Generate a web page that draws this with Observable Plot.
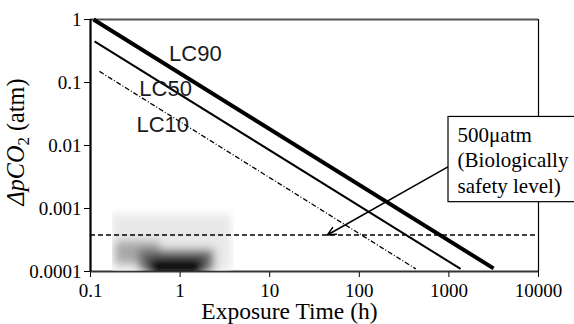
<!DOCTYPE html>
<html>
<head>
<meta charset="utf-8">
<script src="https://cdn.jsdelivr.net/npm/d3@7"></script>
<script src="https://cdn.jsdelivr.net/npm/@observablehq/plot@0.6"></script>
<style>
  html, body { margin: 0; padding: 0; background: white; overflow: hidden; }
</style>
</head>
<body>
<div id="chart"></div>
<script>
// ---- data ----
const seriesNames = ["LC90", "LC50", "LC10"];
const startTime = [0.108, 0.111, 0.126];
const startPCO2 = [1, 0.45, 0.15];
const endTime = [3150, 1350, 427];
const endPCO2 = [0.000112, 0.00011, 0.00011];
const labelTime = [1.48, 0.69, 0.64];
const labelPCO2 = [0.28, 0.078, 0.021];

const safetyLevel = [0.00038];
const safetyText = ["500μatm\n(Biologically\nsafety level)"];

const xTicks = [0.1, 1, 10, 100, 1000, 10000];
const xTickLabels = ["0.1", "1", "10", "100", "1000", "10000"];
const yTicks = [0.0001, 0.001, 0.01, 0.1, 1];
const yTickLabels = ["0.0001", "0.001", "0.01", "0.1", "1"];

const xTitle = "Exposure Time (h)";

// annotation box / arrow (data coordinates); the box runs past the right edge
const boxX = [990, 60000];
const boxY = [0.00126, 0.0284];
const boxTextAt = [1250, 0.0225];
const arrowFrom = [964, 0.00454];
const arrowTo = [44, 0.00038];

// smudge in the lower-left corner
const blobX1 = [0.176, 0.19, 0.35, 0.46];
const blobX2 = [3.7, 0.6, 2.4, 1.8];
const blobY1 = [0.0001, 0.00013, 0.0001, 0.00009];
const blobY2 = [0.0008, 0.0003, 0.00022, 0.00016];
const blobFill = ["#e8e8e8", "#a8a8a8", "#666666", "#000000"];

// ---- tables built from arrays ----
const lineData = seriesNames.flatMap((s, i) => [
  {s, t: startTime[i], p: startPCO2[i]},
  {s, t: endTime[i], p: endPCO2[i]}
]);
const labelData = seriesNames.map((s, i) => ({s, t: labelTime[i], p: labelPCO2[i]}));
const blobData = blobFill.map((f, i) => ({x1: blobX1[i], x2: blobX2[i], y1: blobY1[i], y2: blobY2[i], f}));

const strokeW = {LC90: 4, LC50: 2, LC10: 1.3};
const dash = {LC90: null, LC50: null, LC10: "5,2,1,2"};

const marks = [
  Plot.ruleY([1], {stroke: "#555", strokeWidth: 2}),
  Plot.ruleX([10000], {stroke: "black", strokeWidth: 1.2}),
  Plot.ruleY([0.0001], {stroke: "#333", strokeWidth: 2}),
  Plot.rect(blobData, {x1: "x1", x2: "x2", y1: "y1", y2: "y2", fill: "f"}),
  Plot.ruleX([0.1], {stroke: "black", strokeWidth: 2.2}),
  Plot.ruleY(safetyLevel, {stroke: "black", strokeWidth: 1.6, strokeDasharray: "5,3"}),
];
for (const s of seriesNames) {
  marks.push(Plot.line(lineData.filter(d => d.s === s), {
    x: "t", y: "p", stroke: "black", strokeWidth: strokeW[s],
    strokeDasharray: dash[s], strokeLinecap: "butt"
  }));
}
marks.push(
  Plot.text(labelData, {x: "t", y: "p", text: "s", fontFamily: "Liberation Sans", fontSize: 22, fill: "#1a1a1a"}),
  Plot.rect([{}], {x1: () => boxX[0], x2: () => boxX[1], y1: () => boxY[0], y2: () => boxY[1], fill: "white", stroke: "black", strokeWidth: 1.2}),
  Plot.text(safetyText, {x: () => boxTextAt[0], y: () => boxTextAt[1], text: d => d, textAnchor: "start", lineAnchor: "top", lineHeight: 1.22, fontSize: 21, fontFamily: "Liberation Serif", fill: "black"}),
  Plot.arrow([{}], {x1: () => arrowFrom[0], y1: () => arrowFrom[1], x2: () => arrowTo[0], y2: () => arrowTo[1], stroke: "black", strokeWidth: 1.5, headLength: 9, headAngle: 50}),
  Plot.text([xTitle], {x: () => 16.6, frameAnchor: "bottom", dy: 47, text: d => d, fontSize: 23.5, fontFamily: "Liberation Serif", fill: "black"})
);

const plot = Plot.plot({
  width: 574,
  height: 324,
  marginLeft: 90,
  marginRight: 36,
  marginTop: 19,
  marginBottom: 53,
  style: {fontFamily: "Liberation Serif", fontSize: "19px", background: "white", color: "black", overflow: "hidden"},
  x: {type: "log", domain: [0.1, 10000], ticks: xTicks, tickFormat: d => xTickLabels[xTicks.indexOf(d)], tickSize: 6, tickPadding: 6, label: null},
  y: {type: "log", domain: [0.0001, 1], ticks: yTicks, tickFormat: d => yTickLabels[yTicks.indexOf(d)], tickSize: 6, tickPadding: 3, label: null},
  marks
});

document.getElementById("chart").appendChild(plot);

// blur + clip for the smudge (first rect group)
const svg = d3.select(plot);
const defs = svg.append("defs");
defs.append("filter").attr("id", "smudge-blur")
  .attr("filterUnits", "userSpaceOnUse")
  .attr("x", 0).attr("y", 150).attr("width", 300).attr("height", 174)
  .append("feGaussianBlur").attr("stdDeviation", 4.5);
defs.append("clipPath").attr("id", "smudge-clip").attr("clipPathUnits", "userSpaceOnUse")
  .append("rect").attr("x", 112).attr("y", 195).attr("width", 122).attr("height", 76);
const blobG = plot.querySelector('g[aria-label="rect"]');
if (blobG) {
  blobG.setAttribute("filter", "url(#smudge-blur)");
  const wrap = document.createElementNS("http://www.w3.org/2000/svg", "g");
  wrap.setAttribute("clip-path", "url(#smudge-clip)");
  blobG.parentNode.insertBefore(wrap, blobG);
  wrap.appendChild(blobG);
}

// y-axis title with italic and subscript, sized to the reference's length
const yt = svg.append("text")
  .attr("transform", "translate(24,142) rotate(-90)")
  .attr("text-anchor", "middle")
  .attr("font-family", "Liberation Serif")
  .style("font-family", "'Liberation Serif'")
  .style("font-size", "20px")
  .attr("fill", "black");
yt.append("tspan").attr("font-style", "italic").text("ΔpCO");
const sub = yt.append("tspan").style("font-size", "14px").attr("dy", 5).text("2");
yt.append("tspan").attr("dy", -5).text(" (atm)");
const L = yt.node().getComputedTextLength();
if (L > 0) {
  const k = 127 / L;
  yt.style("font-size", (20 * k) + "px");
  sub.style("font-size", (14 * k) + "px");
}
</script>
</body>
</html>
